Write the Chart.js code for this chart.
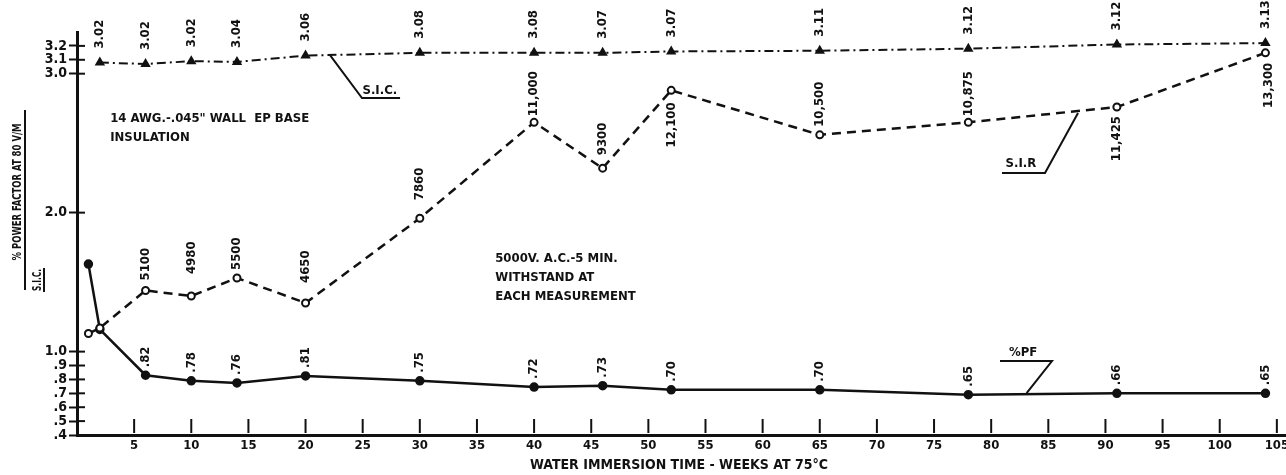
<!DOCTYPE html>
<html>
<head>
<meta charset="utf-8">
<script src="https://cdn.jsdelivr.net/npm/chart.js@4.4.1/dist/chart.umd.min.js"></script>
<style>
  html, body { margin: 0; background: #fff; }
  #wrap { width: 1286px; height: 475px; }
</style>
</head>
<body>
<div id="wrap"><canvas id="immersionChart"></canvas></div>
<script>
const FONT = "'DejaVu Sans Condensed', 'Liberation Sans Narrow', 'DejaVu Sans', sans-serif";
const INK = '#111';

// weeks in water at 75 C
const sicWeeks = [2, 6, 10, 14, 20, 30, 40, 46, 52, 65, 78, 91, 104];
const testWeeks = [1, 2, 6, 10, 14, 20, 30, 40, 46, 52, 65, 78, 91, 104];

const sicPlot = [3.08, 3.07, 3.09, 3.085, 3.13, 3.15, 3.15, 3.15, 3.16, 3.165, 3.18, 3.21, 3.22];
const sirPlot = [1.13, 1.17, 1.44, 1.40, 1.53, 1.35, 1.96, 2.65, 2.32, 2.88, 2.56, 2.65, 2.76, 3.15];
const pfPlot = [1.63, 1.16, 0.83, 0.79, 0.775, 0.825, 0.79, 0.745, 0.755, 0.725, 0.725, 0.69, 0.70, 0.70];

// readings written beside the points
const sicReadings = [3.02, 3.02, 3.02, 3.04, 3.06, 3.08, 3.08, 3.07, 3.07, 3.11, 3.12, 3.12, 3.13];
const sirReadings = [null, null, 5100, 4980, 5500, 4650, 7860, 11000, 9300, 12100, 10500, 10875, 11425, 13300];
const pfReadings = [null, null, .82, .78, .76, .81, .75, .72, .73, .70, .70, .65, .66, .65];

const yTicks = [0.4, 0.5, 0.6, 0.7, 0.8, 0.9, 1.0, 2.0, 3.0, 3.1, 3.2];
const xTicks = [5, 10, 15, 20, 25, 30, 35, 40, 45, 50, 55, 60, 65, 70, 75, 80, 85, 90, 95, 100, 105];

// label gap in px, + above the point, - below it
const sicGap = 14;
const pfGap = 8;
const sirGaps = [0, 0, 10, 22, 8, 20, 18, 6, 13, -12, 8, 6, -9, -10];

// free text on the sheet, placed in axis units
const notes = [
  { text: '14 AWG.-.045" WALL  EP BASE', w: 2.9, v: 2.68, width: 210 },
  { text: 'INSULATION', w: 2.9, v: 2.537, width: 82 },
  { text: '5000V. A.C.-5 MIN.', w: 36.6, v: 1.666, width: 123 },
  { text: 'WITHSTAND AT', w: 36.6, v: 1.53, width: 102 },
  { text: 'EACH MEASUREMENT', w: 36.6, v: 1.393, width: 145 }
];
const leaders = [
  { text: 'S.I.C.', tw: 26.5, tv: 2.88, path: [[22.14, 3.134], [24.94, 2.825], [28.27, 2.825]] },
  { text: 'S.I.R', tw: 82.6, tv: 2.35, path: [[87.6, 2.717], [84.71, 2.285], [80.95, 2.285]] },
  { text: '%PF', tw: 82.8, tv: 0.99, path: [[83.1, 0.702], [85.32, 0.932], [80.77, 0.932]] }
];

const fmtSir = v => v >= 10000 ? v.toLocaleString('en-US') : String(v);
const fmtPf = v => v.toFixed(2).replace(/^0/, '');

function rotatedLabel(ctx, text, px, py, gap) {
  ctx.save();
  ctx.translate(px, py - gap);
  ctx.rotate(-Math.PI / 2);
  ctx.textAlign = gap >= 0 ? 'left' : 'right';
  ctx.textBaseline = 'middle';
  ctx.fillText(text, 0, 0);
  ctx.restore();
}

const sheet = {
  id: 'sheet',
  afterDatasetsDraw(chart) {
    const { ctx, chartArea, scales: { x, y } } = chart;
    const px = w => x.getPixelForValue(w);
    const py = v => y.getPixelForValue(v);
    ctx.save();
    ctx.strokeStyle = INK;
    ctx.fillStyle = INK;

    // short ticks standing on the x axis, numbers under it
    ctx.lineWidth = 2;
    ctx.font = 'bold 13px ' + FONT;
    ctx.textAlign = 'center';
    ctx.textBaseline = 'middle';
    xTicks.forEach(w => {
      ctx.beginPath();
      ctx.moveTo(px(w), chartArea.bottom - 2);
      ctx.lineTo(px(w), chartArea.bottom - 16);
      ctx.stroke();
      ctx.fillText(String(w), px(w), chartArea.bottom + 11);
    });
    // inner half of the y ticks
    yTicks.forEach(v => {
      ctx.beginPath();
      ctx.moveTo(chartArea.left, py(v));
      ctx.lineTo(chartArea.left + 8, py(v));
      ctx.stroke();
    });

    // readings beside points
    const metas = chart.data.datasets.map((d, i) => chart.getDatasetMeta(i));
    metas[0].data.forEach((pt, i) => rotatedLabel(ctx, sicReadings[i].toFixed(2), pt.x, pt.y, sicGap));
    metas[1].data.forEach((pt, i) => {
      if (sirReadings[i] !== null) rotatedLabel(ctx, fmtSir(sirReadings[i]), pt.x + (i === 13 ? 3 : 0), pt.y, sirGaps[i]);
    });
    metas[2].data.forEach((pt, i) => {
      if (pfReadings[i] !== null) rotatedLabel(ctx, fmtPf(pfReadings[i]), pt.x, pt.y, pfGap);
    });

    // notes
    ctx.textAlign = 'left';
    ctx.textBaseline = 'middle';
    notes.forEach(n => ctx.fillText(n.text, px(n.w), py(n.v), n.width));

    // leader labels
    ctx.lineWidth = 2;
    leaders.forEach(l => {
      ctx.beginPath();
      l.path.forEach(([w, v], k) => k ? ctx.lineTo(px(w), py(v)) : ctx.moveTo(px(w), py(v)));
      ctx.stroke();
      ctx.textAlign = 'center';
      ctx.fillText(l.text, px(l.tw), py(l.tv));
    });

    // x title
    ctx.font = 'bold 14px ' + FONT;
    ctx.textAlign = 'center';
    ctx.fillText('WATER IMMERSION TIME - WEEKS AT 75°C', 679, 465, 298);

    // y title as a fraction
    ctx.save();
    ctx.translate(18, 192);
    ctx.rotate(-Math.PI / 2);
    ctx.font = 'bold 12px ' + FONT;
    ctx.fillText('% POWER FACTOR AT 80 V/M', 0, 0, 137);
    ctx.restore();
    ctx.save();
    ctx.translate(38, 280);
    ctx.rotate(-Math.PI / 2);
    ctx.font = 'bold 12px ' + FONT;
    ctx.textAlign = 'center';
    ctx.fillText('S.I.C.', 0, 0, 22);
    ctx.restore();
    ctx.beginPath();
    ctx.moveTo(25, 110); ctx.lineTo(25, 290);
    ctx.moveTo(44, 268); ctx.lineTo(44, 292);
    ctx.stroke();

    ctx.restore();
  }
};

const toPoints = (weeks, vals) => weeks.map((w, i) => ({ x: w, y: vals[i] }));

new Chart(document.getElementById('immersionChart'), {
  type: 'line',
  data: {
    datasets: [
      {
        label: 'S.I.C.',
        data: toPoints(sicWeeks, sicPlot),
        borderColor: INK,
        borderWidth: 2,
        borderDash: [9, 4, 2, 4],
        pointStyle: 'triangle',
        pointRadius: 4,
        pointBackgroundColor: INK,
        pointBorderColor: INK,
        tension: 0
      },
      {
        label: 'S.I.R',
        data: toPoints(testWeeks, sirPlot),
        borderColor: INK,
        borderWidth: 2.5,
        borderDash: [9, 6],
        pointStyle: 'circle',
        pointRadius: 3.5,
        pointBorderWidth: 2,
        pointBackgroundColor: '#fff',
        pointBorderColor: INK,
        tension: 0
      },
      {
        label: '%PF',
        data: toPoints(testWeeks, pfPlot),
        borderColor: INK,
        borderWidth: 2.5,
        pointStyle: 'circle',
        pointRadius: 3.5,
        pointBackgroundColor: INK,
        pointBorderColor: INK,
        tension: 0
      }
    ]
  },
  options: {
    responsive: true,
    maintainAspectRatio: false,
    animation: false,
    layout: { autoPadding: false, padding: { top: 32, right: 0, left: 0, bottom: 0 } },
    plugins: { legend: { display: false }, tooltip: { enabled: false } },
    scales: {
      x: {
        type: 'linear',
        min: 0,
        max: 105.8,
        afterFit(scale) { scale.height = 40; },
        grid: { drawOnChartArea: false, drawTicks: false },
        border: { display: true, color: INK, width: 3 },
        ticks: { display: false, stepSize: 5 }
      },
      y: {
        min: 0.4,
        max: 3.3,
        afterFit(scale) { scale.width = 77; },
        afterBuildTicks(scale) { scale.ticks = yTicks.map(v => ({ value: v })); },
        grid: { drawOnChartArea: false, drawTicks: true, tickLength: 8, tickWidth: 2, tickColor: INK },
        border: { display: true, color: INK, width: 3 },
        ticks: {
          autoSkip: false,
          padding: 2,
          color: INK,
          font: { family: FONT, size: 14, weight: 'bold' },
          callback: v => (v < 1 ? fmtPf(v).slice(0, 2) : v.toFixed(1))
        }
      }
    }
  },
  plugins: [sheet]
});
</script>
</body>
</html>
